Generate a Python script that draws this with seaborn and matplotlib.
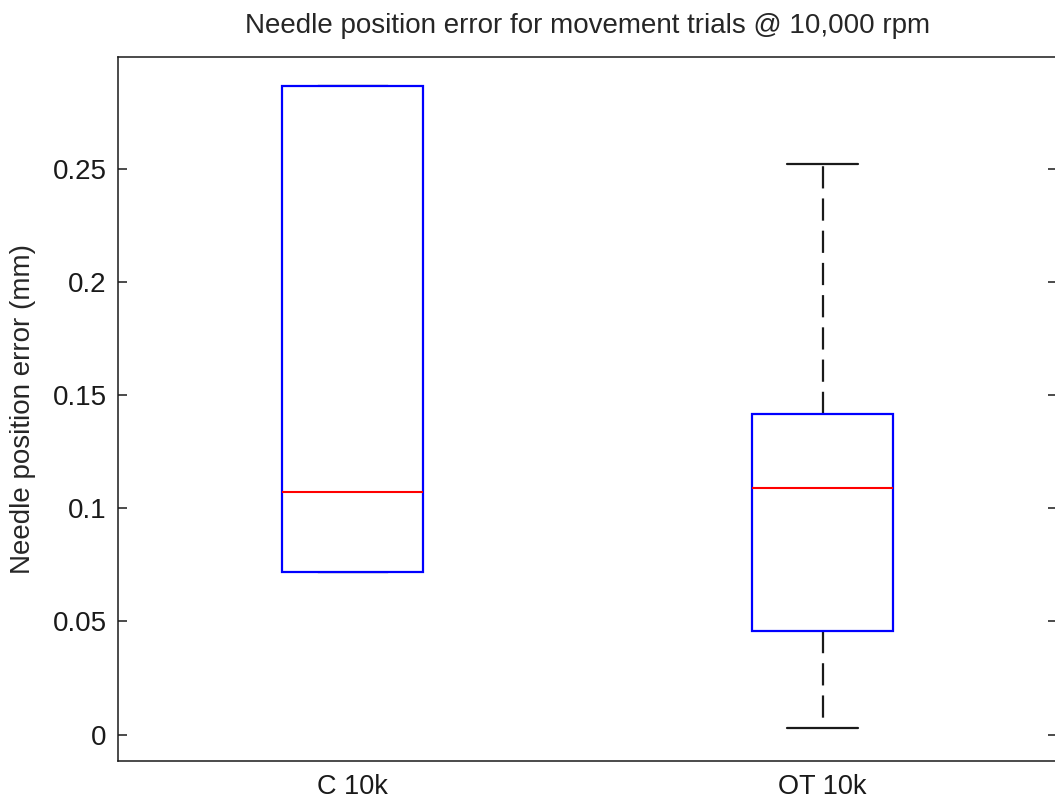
import matplotlib
matplotlib.use("Agg")
import matplotlib.pyplot as plt
import seaborn as sns
import pandas as pd

# Trial groups and per-trial needle position errors (mm)
groups = ["C 10k", "OT 10k"]
c10k_errors = [0.0719, 0.0719, 0.1072, 0.2865, 0.2865]
ot10k_errors = [0.0028, 0.0459, 0.1090, 0.1417, 0.2521]
ytick_values = [0, 0.05, 0.1, 0.15, 0.2, 0.25]
ytick_labels = ["0", "0.05", "0.1", "0.15", "0.2", "0.25"]

df = pd.DataFrame({
    "group": [groups[0]] * len(c10k_errors) + [groups[1]] * len(ot10k_errors),
    "error": c10k_errors + ot10k_errors,
})

sns.set_theme(style="white")
plt.rcParams["font.family"] = ["Liberation Sans", "DejaVu Sans"]

fig = plt.figure(figsize=(10.55, 8.0), dpi=100)
ax = fig.add_axes([0.1118, 0.04875, 0.8905, 0.8804])

sns.boxplot(
    data=df, x="group", y="error", order=groups, ax=ax,
    width=0.3, whis=1.5, linecolor="#1a1a1a", linewidth=1.5,
    showfliers=False,
    boxprops={"facecolor": "white", "edgecolor": "#0000ff", "linewidth": 1.6, "zorder": 3},
    medianprops={"color": "#ff0000", "linewidth": 1.5, "zorder": 4},
    whiskerprops={"color": "#1a1a1a", "linewidth": 1.6, "linestyle": (0, (10, 4.5))},
    capprops={"color": "#1a1a1a", "linewidth": 1.6},
)

ax.set_xlim(-0.5, 1.5)
ax.set_ylim(-0.0116, 0.2994)
ax.set_yticks(ytick_values)
ax.set_yticklabels(ytick_labels)
ax.set_xlabel("")
ax.set_ylabel("Needle position error (mm)", fontsize=20, labelpad=12)
ax.set_title("Needle position error for movement trials @ 10,000 rpm", fontsize=20, pad=17)

ax.tick_params(axis="y", which="both", direction="in", length=6.5, width=1.1,
               left=True, right=True, labelsize=20, pad=8, colors="#1a1a1a")
ax.tick_params(axis="x", which="both", length=0, labelsize=19.5, pad=9, colors="#1a1a1a")
for lbl in ax.get_xticklabels() + ax.get_yticklabels():
    lbl.set_color("#1a1a1a")
for spine in ax.spines.values():
    spine.set_visible(True)
    spine.set_color("#1a1a1a")
    spine.set_linewidth(1.1)

fig.savefig("out.png", dpi=100, facecolor="white")
